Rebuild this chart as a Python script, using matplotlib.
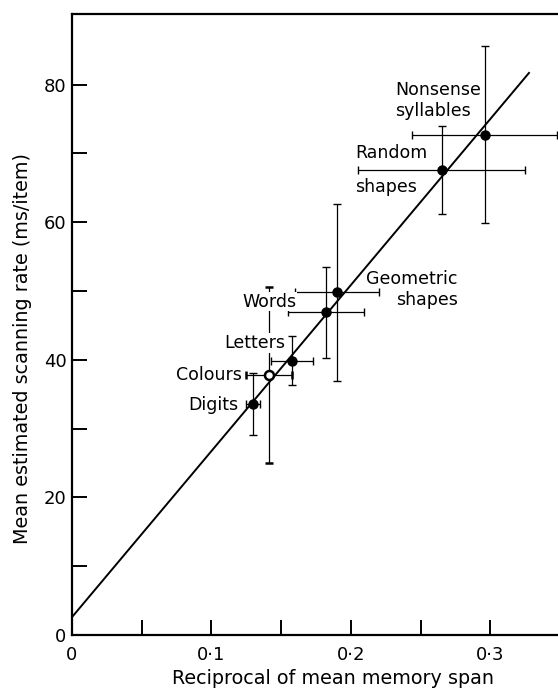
import numpy as np
import matplotlib
matplotlib.use("Agg")
import matplotlib.pyplot as plt

# data
labels = ["Digits", "Colours", "Letters", "Words", "Geometric\nshapes",
          "Random\nshapes", "Nonsense\nsyllables"]
span_recip = [0.130, 0.141, 0.1575, 0.182, 0.190, 0.265, 0.296]
scan_rate = [33.6, 37.8, 39.9, 46.9, 49.8, 67.6, 72.7]
x_err = [0.005, 0.0165, 0.015, 0.0275, 0.030, 0.060, 0.052]
y_err = [4.5, 12.8, 3.5, 6.6, 12.9, 6.4, 12.85]
fit_x = [0.0, 0.3276]
fit_y = [2.6, 81.7]

plt.rcParams['font.family'] = ['DejaVu Sans']

fig = plt.figure(figsize=(5.58, 6.88), dpi=100)
ax = fig.add_axes([0.129, 0.077, 0.871, 0.903])

ax.plot(fit_x, fit_y, color='black', lw=1.4, zorder=2)

for i in range(len(labels)):
    open_pt = labels[i] == "Colours"
    ax.errorbar(span_recip[i], scan_rate[i], xerr=x_err[i], yerr=y_err[i],
                fmt='o', color='black', ecolor='black', elinewidth=0.9,
                capsize=3, capthick=0.9, ms=6.5,
                mfc='white' if open_pt else 'black', mec='black',
                mew=1.8 if open_pt else 1, zorder=3)

# label offsets in points: dx, dy, horizontal align, multiline align, white box
label_pos = {
    "Digits": (-11, -1, 'right', 'left', False),
    "Colours": (-19, 0, 'right', 'left', False),
    "Letters": (-4.8, 12.7, 'right', 'left', True),
    "Words": (-21, 7.7, 'right', 'left', True),
    "Geometric\nshapes": (87, 2, 'right', 'right', False),
    "Random\nshapes": (-10, 0, 'right', 'left', False),
    "Nonsense\nsyllables": (-2.7, 25, 'right', 'left', False),
}
for i, lab in enumerate(labels):
    dx, dy, ha, ma, box = label_pos[lab]
    kw = {}
    if box:
        kw['bbox'] = dict(facecolor='white', edgecolor='none', pad=0.5)
    if lab == "Random\nshapes":
        kw['linespacing'] = 2.1
    ax.annotate(lab, (span_recip[i], scan_rate[i]), xytext=(dx, dy),
                textcoords='offset points', ha=ha, va='center', fontsize=12.5,
                multialignment=ma, zorder=4, **kw)

ax.set_xlim(0, 0.3484)
ax.set_ylim(0, 90.3)
ax.set_xticks([0, 0.1, 0.2, 0.3])
ax.set_xticklabels(["0", "0·1", "0·2", "0·3"])
ax.set_xticks([0.05, 0.15, 0.25], minor=True)
ax.set_yticks([0, 20, 40, 60, 80])
ax.set_yticks([10, 30, 50, 70], minor=True)
ax.tick_params(which='both', direction='in', length=11, width=1.4,
               labelsize=13, pad=4)
ax.tick_params(axis='x', which='major', pad=8)

ax.spines['right'].set_visible(False)
for s in ['left', 'top', 'bottom']:
    ax.spines[s].set_linewidth(1.6)

ax.set_xlabel("Reciprocal of mean memory span", fontsize=13.8)
ax.set_ylabel("Mean estimated scanning rate (ms/item)", fontsize=13.8)
ax.xaxis.set_label_coords(0.537, -0.054)
ax.yaxis.set_label_coords(-0.082, 0.462)

fig.savefig("out.png", dpi=100)
